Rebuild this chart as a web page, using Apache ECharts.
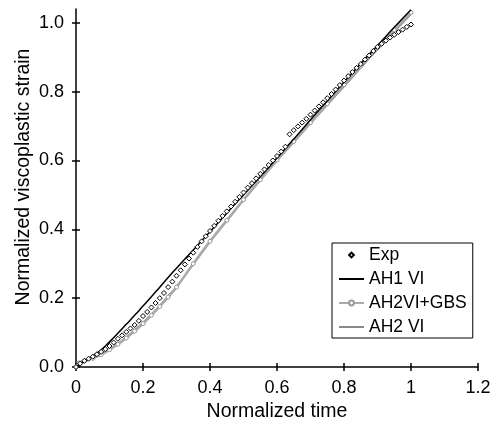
<!DOCTYPE html>
<html>
<head>
<meta charset="utf-8">
<script src="https://cdn.jsdelivr.net/npm/echarts@6/dist/echarts.min.js"></script>
<style>
  html, body { margin: 0; padding: 0; background: #fff; }
  #chart { width: 496px; height: 434px; }
</style>
</head>
<body>
<div id="chart"></div>
<script>
// 实验数据 (Exp)
const expTime = [
  0, 0.0125, 0.025, 0.0375, 0.05, 0.0625, 0.075, 0.0875, 0.1, 0.1125,
  0.125, 0.1375, 0.15, 0.1625, 0.175, 0.1875, 0.2, 0.2125, 0.225, 0.2375,
  0.25, 0.2625, 0.275, 0.2875, 0.3, 0.3125, 0.325, 0.3375, 0.35, 0.3625,
  0.375, 0.3875, 0.4, 0.4125, 0.425, 0.4375, 0.45, 0.4625, 0.475, 0.4875,
  0.5, 0.5125, 0.525, 0.5375, 0.55, 0.5625, 0.575, 0.5875, 0.6, 0.6125,
  0.625, 0.6375, 0.65, 0.6625, 0.675, 0.6875, 0.7, 0.7125, 0.725, 0.7375,
  0.75, 0.7625, 0.775, 0.7875, 0.8, 0.8125, 0.825, 0.8375, 0.85, 0.8625,
  0.875, 0.8875, 0.9, 0.9125, 0.925, 0.9375, 0.95, 0.9625, 0.975, 0.9875, 1.0
];
const expStrain = [
  0, 0.010, 0.018, 0.024, 0.030, 0.037, 0.044, 0.052, 0.061, 0.071,
  0.082, 0.092, 0.102, 0.112, 0.122, 0.134, 0.148, 0.160, 0.173, 0.186,
  0.200, 0.215, 0.232, 0.248, 0.265, 0.281, 0.298, 0.315, 0.332, 0.349,
  0.365, 0.380, 0.395, 0.410, 0.425, 0.439, 0.452, 0.466, 0.480, 0.494,
  0.507, 0.521, 0.534, 0.548, 0.561, 0.574, 0.587, 0.600, 0.613, 0.626,
  0.640, 0.676, 0.688, 0.699, 0.710, 0.721, 0.733, 0.745, 0.757, 0.769,
  0.781, 0.793, 0.806, 0.819, 0.832, 0.845, 0.857, 0.869, 0.880, 0.893,
  0.905, 0.918, 0.930, 0.939, 0.948, 0.957, 0.965, 0.973, 0.980, 0.988, 0.995
];

// 模型曲线
const modelTime = [
  0, 0.01, 0.025, 0.05, 0.075, 0.1, 0.125, 0.15, 0.175, 0.2, 0.225, 0.25, 0.275, 0.3,
  0.35, 0.4, 0.45, 0.5, 0.55, 0.6, 0.65, 0.7, 0.75, 0.8, 0.85, 0.9, 0.95, 1.0
];
const ah1Strain = [
  0, 0.006, 0.016, 0.032, 0.050, 0.073, 0.098, 0.124, 0.150, 0.177, 0.204, 0.232, 0.260, 0.287,
  0.340, 0.393, 0.447, 0.500, 0.553, 0.607, 0.662, 0.718, 0.773, 0.828, 0.882, 0.934, 0.987, 1.038
];
const ah2GbsStrain = [
  0, 0.012, 0.018, 0.025, 0.036, 0.050, 0.066, 0.084, 0.104, 0.126, 0.150, 0.176, 0.203, 0.232,
  0.300, 0.365, 0.426, 0.486, 0.544, 0.601, 0.655, 0.710, 0.765, 0.820, 0.874, 0.927, 0.979, 1.030
];
const ah2Strain = [
  0, 0.008, 0.016, 0.026, 0.038, 0.052, 0.069, 0.088, 0.108, 0.130, 0.154, 0.180, 0.207, 0.235,
  0.297, 0.362, 0.423, 0.483, 0.541, 0.598, 0.652, 0.706, 0.760, 0.814, 0.868, 0.921, 0.973, 1.024
];

const yTicks = [0, 0.2, 0.4, 0.6, 0.8, 1.0];

const font = 'Liberation Sans, Arial, sans-serif';

function pairs(xs, ys) {
  return xs.map((x, i) => [x, ys[i]]);
}

const chart = echarts.init(document.getElementById('chart'), null, { renderer: 'canvas' });

const baseX = {
  type: 'value', min: 0, max: 1.2, interval: 0.2,
  splitLine: { show: false }
};
const baseY = {
  type: 'value', min: 0, max: 1.04, interval: 0.2,
  splitLine: { show: false }
};

const option = {
  backgroundColor: '#fff',
  animation: false,
  grid: { left: 76, right: 18, top: 9, bottom: 67 },
  xAxis: [
    Object.assign({}, baseX, {
      name: 'Normalized time',
      nameLocation: 'middle',
      nameGap: 35,
      nameMoveOverlap: false,
      nameTextStyle: { color: '#000', fontSize: 19.5, fontFamily: font },
      axisLine: { lineStyle: { color: '#000', width: 1.5 } },
      axisTick: { show: true, length: 4, inside: false, lineStyle: { color: '#000', width: 1.5 } },
      axisLabel: { color: '#000', fontSize: 18, fontFamily: font, margin: 12 }
    }),
    Object.assign({}, baseX, {
      position: 'bottom',
      axisLine: { show: false },
      axisTick: { show: true, length: 4, inside: true, lineStyle: { color: '#000', width: 1.5 } },
      axisLabel: { show: false }
    })
  ],
  yAxis: [
    Object.assign({}, baseY, {
      name: 'Normalized viscoplastic strain',
      nameLocation: 'middle',
      nameGap: 42,
      nameMoveOverlap: false,
      nameTextStyle: { color: '#000', fontSize: 19.5, fontFamily: font, padding: [0, 0, 0, 22] },
      axisLine: { lineStyle: { color: '#000', width: 1.5 } },
      axisTick: { show: true, length: 4, inside: false, customValues: yTicks, lineStyle: { color: '#000', width: 1.5 } },
      axisLabel: {
        color: '#000', fontSize: 18, fontFamily: font, margin: 12,
        customValues: yTicks,
        formatter: v => v.toFixed(1)
      }
    }),
    Object.assign({}, baseY, {
      position: 'left',
      axisLine: { show: false },
      axisTick: { show: true, length: 4, inside: true, customValues: yTicks, lineStyle: { color: '#000', width: 1.5 } },
      axisLabel: { show: false }
    })
  ],
  legend: {
    orient: 'vertical',
    left: 332,
    top: 243,
    padding: [3, 6, 2, 6],
    itemGap: 6,
    itemWidth: 25,
    itemHeight: 6,
    borderColor: '#000',
    borderWidth: 1,
    backgroundColor: '#fff',
    textStyle: { color: '#000', fontSize: 17.5, fontFamily: font },
    data: [
      { name: 'Exp', lineStyle: { opacity: 0, width: 0 } },
      { name: 'AH1 VI', itemStyle: { opacity: 0 } },
      { name: 'AH2VI+GBS' },
      { name: 'AH2 VI', itemStyle: { opacity: 0 } }
    ]
  },
  series: [
    {
      name: 'AH2 VI',
      type: 'line',
      data: pairs(modelTime, ah2Strain),
      showSymbol: false,
      symbol: 'none',
      smooth: true,
      lineStyle: { color: '#8a8a8a', width: 1.2 },
      itemStyle: { color: '#8a8a8a' },
      z: 2
    },
    {
      name: 'AH2VI+GBS',
      type: 'line',
      data: pairs(modelTime, ah2GbsStrain),
      smooth: true,
      symbol: 'circle',
      symbolSize: 4,
      lineStyle: { color: '#aaaaaa', width: 2.5 },
      itemStyle: { color: '#fff', borderColor: '#999999', borderWidth: 1 },
      z: 3
    },
    {
      name: 'AH1 VI',
      type: 'line',
      data: pairs(modelTime, ah1Strain),
      showSymbol: false,
      symbol: 'none',
      smooth: true,
      lineStyle: { color: '#000', width: 1.5 },
      itemStyle: { color: '#000' },
      z: 4
    },
    {
      name: 'Exp',
      type: 'line',
      data: pairs(expTime, expStrain),
      symbol: 'diamond',
      symbolSize: 5,
      showAllSymbol: true,
      lineStyle: { opacity: 0, width: 0 },
      itemStyle: { color: '#fff', borderColor: '#000', borderWidth: 1 },
      z: 5
    }
  ]
};

chart.setOption(option);
</script>
</body>
</html>
